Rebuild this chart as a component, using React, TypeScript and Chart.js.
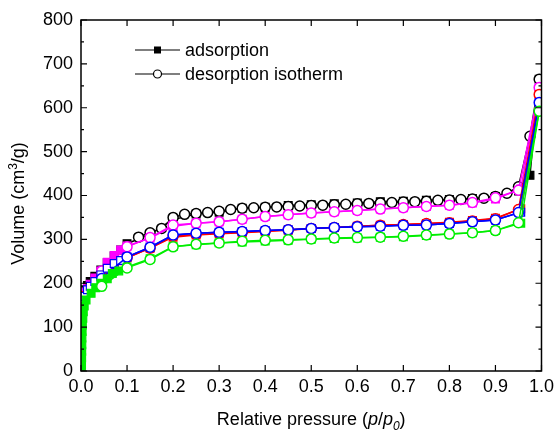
import React, { useEffect, useRef } from "react";
import { Chart, registerables } from "chart.js";

Chart.register(...registerables);

// ---- data ----
const xTicks = [0, 0.1, 0.2, 0.3, 0.4, 0.5, 0.6, 0.7, 0.8, 0.9, 1.0];
const yMajorTicks = [0, 100, 200, 300, 400, 500, 600, 700, 800];
const yMinorTicks = [50, 150, 250, 350, 450, 550, 650, 750];
const legendLabels = ["adsorption", "desorption isotherm"];

const adsP = [0.002, 0.004, 0.008, 0.014, 0.02, 0.03, 0.043, 0.057, 0.072, 0.086, 0.1, 0.15, 0.2, 0.25, 0.3, 0.35, 0.4, 0.45, 0.5, 0.55, 0.6, 0.65, 0.7, 0.75, 0.8, 0.85, 0.9, 0.955, 0.995];
const desP = [0.995, 0.95, 0.9, 0.85, 0.8, 0.75, 0.7, 0.65, 0.6, 0.55, 0.5, 0.45, 0.4, 0.35, 0.3, 0.25, 0.2, 0.15, 0.1, 0.045];

const blackAdsP = [0.002, 0.004, 0.008, 0.014, 0.02, 0.03, 0.043, 0.057, 0.072, 0.086, 0.1, 0.15, 0.2, 0.25, 0.3, 0.35, 0.4, 0.45, 0.5, 0.55, 0.6, 0.65, 0.7, 0.75, 0.8, 0.85, 0.9, 0.95, 0.975, 0.995];
const blackAds = [160, 172, 185, 195, 204, 216, 230, 247, 262, 276, 290, 312, 345, 358, 362, 371, 373, 377, 379, 381, 383, 386, 387, 389, 391, 393, 398, 410, 446, 665];
const blackDesP = [0.995, 0.975, 0.95, 0.925, 0.9, 0.875, 0.85, 0.825, 0.8, 0.775, 0.75, 0.725, 0.7, 0.675, 0.65, 0.625, 0.6, 0.575, 0.55, 0.525, 0.5, 0.475, 0.45, 0.425, 0.4, 0.375, 0.35, 0.325, 0.3, 0.275, 0.25, 0.225, 0.2, 0.175, 0.15, 0.125];
const blackDes = [665, 535, 420, 405, 398, 394, 392, 391, 390, 389, 387, 386, 385, 384, 383, 382, 381, 380, 379, 378, 377, 376, 375, 374, 373, 372, 371, 368, 364, 361, 359, 357, 350, 325, 315, 305];

const magentaAds = [165, 172, 180, 188, 198, 212, 228, 248, 263, 276, 285, 303, 330, 337, 340, 346, 352, 356, 360, 363, 366, 369, 372, 375, 378, 383, 392, 415, 646];
const magentaDes = [646, 412, 395, 384, 378, 375, 372, 369, 366, 363, 360, 356, 352, 346, 340, 337, 333, 304, 283, 228];

const redAds = [150, 160, 172, 185, 192, 204, 218, 232, 243, 251, 258, 280, 305, 310, 313, 315, 318, 321, 325, 327, 330, 332, 334, 336, 339, 343, 348, 370, 630];
const redDes = [630, 368, 347, 342, 338, 336, 334, 332, 330, 327, 325, 322, 319, 316, 314, 311, 307, 280, 258, 212];

const blueAds = [140, 155, 170, 185, 193, 204, 219, 234, 245, 252, 260, 282, 310, 314, 316, 318, 320, 322, 325, 327, 329, 330, 332, 333, 336, 340, 344, 362, 612];
const blueDes = [612, 361, 344, 340, 336, 333, 332, 330, 329, 327, 325, 322, 320, 318, 316, 314, 310, 282, 260, 211];

const greenAdsP = [0.001, 0.0012, 0.0014, 0.0016, 0.0018, 0.002, 0.0025, 0.003, 0.004, 0.005, 0.007, 0.011, 0.022, 0.032, 0.043, 0.057, 0.068, 0.082, 0.1, 0.15, 0.2, 0.25, 0.3, 0.35, 0.4, 0.45, 0.5, 0.55, 0.6, 0.65, 0.7, 0.75, 0.8, 0.85, 0.9, 0.955, 0.995];
const greenAds = [0, 15, 30, 45, 60, 75, 90, 105, 120, 135, 148, 162, 177, 190, 200, 210, 222, 228, 237, 256, 284, 288, 292, 294, 296, 298, 300, 302, 303, 305, 306, 309, 312, 315, 320, 337, 592];
const greenDes = [592, 338, 320, 315, 312, 310, 307, 305, 304, 303, 301, 299, 298, 296, 292, 289, 283, 254, 235, 193];

const FONT = '"Liberation Sans", Arial, Helvetica, sans-serif';

const pts = (xs: number[], ys: number[]) => xs.map((x, i) => ({ x, y: ys[i] }));

function ads(label: string, xs: number[], ys: number[], color: string, fill: string) {
  return {
    label,
    data: pts(xs, ys),
    showLine: true,
    borderColor: color,
    borderWidth: 1.5,
    pointStyle: "rect",
    pointRadius: 5.5,
    pointBorderWidth: 1.2,
    pointBorderColor: color,
    pointBackgroundColor: fill,
  };
}
function des(label: string, xs: number[], ys: number[], color: string) {
  return {
    label,
    data: pts(xs, ys),
    showLine: true,
    borderColor: color,
    borderWidth: 1.5,
    pointStyle: "circle",
    pointRadius: 5,
    pointBorderWidth: 1.5,
    pointBorderColor: color,
    pointBackgroundColor: "#ffffff",
  };
}

const decorPlugin = {
  id: "decor",
  afterDraw(chart: any) {
    const { ctx, chartArea: a, scales } = chart;
    const xs = scales.x;
    const ys = scales.y;
    ctx.save();
    // frame
    ctx.strokeStyle = "#000";
    ctx.lineWidth = 1.5;
    ctx.strokeRect(a.left, a.top, a.right - a.left, a.bottom - a.top);
    // ticks (inward)
    ctx.lineWidth = 1.2;
    ctx.beginPath();
    for (const v of xTicks) {
      const x = xs.getPixelForValue(v);
      ctx.moveTo(x, a.bottom); ctx.lineTo(x, a.bottom - 6);
      ctx.moveTo(x, a.top); ctx.lineTo(x, a.top + 6);
    }
    for (const v of yMajorTicks) {
      const y = ys.getPixelForValue(v);
      ctx.moveTo(a.left, y); ctx.lineTo(a.left + 6, y);
      ctx.moveTo(a.right, y); ctx.lineTo(a.right - 6, y);
    }
    for (const v of yMinorTicks) {
      const y = ys.getPixelForValue(v);
      ctx.moveTo(a.left, y); ctx.lineTo(a.left + 3, y);
      ctx.moveTo(a.right, y); ctx.lineTo(a.right - 3, y);
    }
    ctx.stroke();

    // legend
    const rows = [
      { y: 50, text: legendLabels[0], style: "rect" },
      { y: 74, text: legendLabels[1], style: "circle" },
    ];
    for (const r of rows) {
      ctx.strokeStyle = "#000";
      ctx.lineWidth = 1.2;
      ctx.beginPath();
      ctx.moveTo(135, r.y); ctx.lineTo(180, r.y);
      ctx.stroke();
      if (r.style === "rect") {
        ctx.fillStyle = "#000";
        ctx.fillRect(154, r.y - 3.5, 7, 7);
      } else {
        ctx.fillStyle = "#fff";
        ctx.beginPath();
        ctx.arc(157.5, r.y, 4, 0, Math.PI * 2);
        ctx.fill();
        ctx.stroke();
      }
      ctx.fillStyle = "#000";
      ctx.font = `18px ${FONT}`;
      ctx.textAlign = "left";
      ctx.textBaseline = "middle";
      ctx.fillText(r.text, 185, r.y + 1);
    }

    // x-axis title: Relative pressure (p/p0)
    {
      const parts = [
        { t: "Relative pressure (", f: `18px ${FONT}`, dy: 0 },
        { t: "p", f: `italic 18px ${FONT}`, dy: 0 },
        { t: "/", f: `18px ${FONT}`, dy: 0 },
        { t: "p", f: `italic 18px ${FONT}`, dy: 0 },
        { t: "0", f: `italic 12px ${FONT}`, dy: 5 },
        { t: ")", f: `18px ${FONT}`, dy: 0 },
      ];
      let total = 0;
      for (const p of parts) { ctx.font = p.f; total += ctx.measureText(p.t).width; }
      let x = (a.left + a.right) / 2 - total / 2;
      const base = 425;
      ctx.textAlign = "left";
      ctx.textBaseline = "alphabetic";
      for (const p of parts) {
        ctx.font = p.f;
        ctx.fillText(p.t, x, base + p.dy);
        x += ctx.measureText(p.t).width;
      }
    }
    // y-axis title: Volume (cm3/g)
    {
      const parts = [
        { t: "Volume (cm", f: `18px ${FONT}`, dy: 0 },
        { t: "3", f: `12px ${FONT}`, dy: -7 },
        { t: "/g)", f: `18px ${FONT}`, dy: 0 },
      ];
      let total = 0;
      for (const p of parts) { ctx.font = p.f; total += ctx.measureText(p.t).width; }
      ctx.translate(24, (a.top + a.bottom) / 2 + 8);
      ctx.rotate(-Math.PI / 2);
      let x = -total / 2;
      ctx.textAlign = "left";
      ctx.textBaseline = "alphabetic";
      for (const p of parts) {
        ctx.font = p.f;
        ctx.fillText(p.t, x, p.dy);
        x += ctx.measureText(p.t).width;
      }
    }
    ctx.restore();
  },
};

export default function App() {
  const ref = useRef<HTMLCanvasElement | null>(null);
  useEffect(() => {
    document.body.style.margin = "0";
    const canvas = ref.current;
    if (!canvas) return;
    const chart = new Chart(canvas, {
      type: "scatter",
      data: {
        datasets: [
          des("green desorption", desP, greenDes, "#00ee00"),
          ads("green adsorption", greenAdsP, greenAds, "#00ee00", "#00ee00"),
          des("blue desorption", desP, blueDes, "#0000ff"),
          ads("blue adsorption", adsP, blueAds, "#0000ff", "#ffffff"),
          des("red desorption", desP, redDes, "#ff0000"),
          ads("red adsorption", adsP, redAds, "#ff0000", "#ff0000"),
          des("magenta desorption", desP, magentaDes, "#ff00ff"),
          ads("magenta adsorption", adsP, magentaAds, "#ff00ff", "#ff00ff"),
          des("black desorption", blackDesP, blackDes, "#000000"),
          ads("black adsorption", blackAdsP, blackAds, "#000000", "#000000"),
        ] as any,
      },
      options: {
        responsive: false,
        animation: false,
        layout: { padding: { top: 20, right: 13, left: 0, bottom: 0 } },
        plugins: { legend: { display: false }, tooltip: { enabled: false } },
        scales: {
          x: {
            type: "linear",
            min: 0,
            max: 1,
            afterFit: (s: any) => { s.height = 61; },
            afterBuildTicks: (s: any) => { s.ticks = xTicks.map((v) => ({ value: v })); },
            ticks: {
              color: "#000",
              font: { family: FONT, size: 18 },
              padding: 5,
              maxRotation: 0,
              autoSkip: false,
              callback: (v: any) => Number(v).toFixed(1),
            },
            grid: { display: false, drawTicks: false },
            border: { display: false },
          },
          y: {
            type: "linear",
            min: 0,
            max: 800,
            afterFit: (s: any) => { s.width = 81; },
            afterBuildTicks: (s: any) => { s.ticks = yMajorTicks.map((v) => ({ value: v })); },
            ticks: {
              color: "#000",
              font: { family: FONT, size: 18 },
              padding: 8,
              autoSkip: false,
            },
            grid: { display: false, drawTicks: false },
            border: { display: false },
          },
        },
      },
      plugins: [decorPlugin],
    } as any);
    return () => chart.destroy();
  }, []);
  return (
    <div style={{ width: 559, height: 432, background: "#fff" }}>
      <canvas ref={ref} width={559} height={432} style={{ display: "block", width: 559, height: 432 }} />
    </div>
  );
}
